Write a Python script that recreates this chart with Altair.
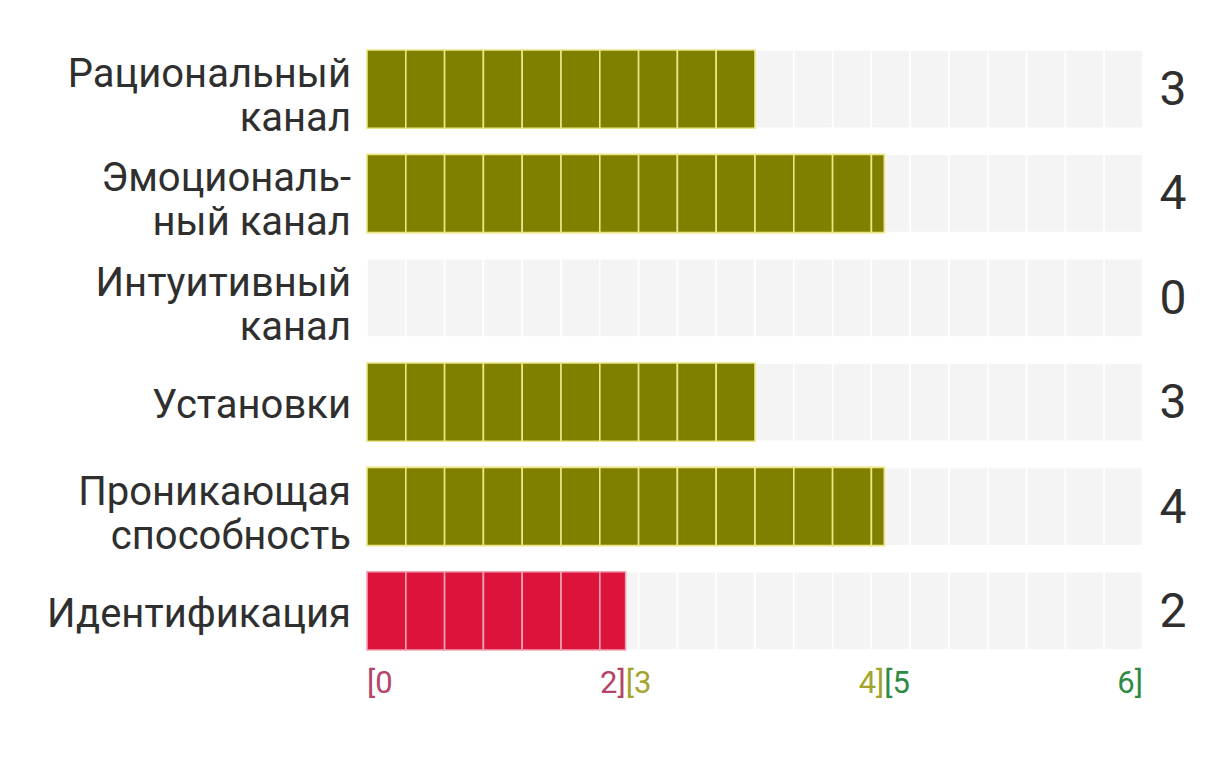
import altair as alt
import pandas as pd

# ---- data ----
categories = [
    "Рациональный\nканал",
    "Эмоциональ-\nный канал",
    "Интуитивный\nканал",
    "Установки",
    "Проникающая\nспособность",
    "Идентификация",
]
scores = [3, 4, 0, 3, 4, 2]
range_lo = [0, 3, 5]
range_hi = [2, 4, 6]

# ---- style constants ----
max_score = 6
n_cells = 20
bar_colors = ["#dc143c", "#808000", "#228b22"]
sep_colors = ["#f3a3b4", "#ece686", "#a8e0a8"]
range_colors = ["#b5446b", "#a4a42a", "#2f8a43"]
bg_fill = "#f4f4f4"
text_color = "#2f2f2f"
font = "Roboto"

step = max_score / n_cells
bg_rows, fg_rows = [], []
for c, v in zip(categories, scores):
    for i in range(n_cells):
        lo, hi = i * step, (i + 1) * step
        bg_rows.append(dict(cat=c, x0=lo, x1=hi))
        if lo < v - 1e-9:
            fg_rows.append(dict(cat=c, x0=lo, x1=min(hi, v), score=v))
bg_df = pd.DataFrame(bg_rows)
fg_df = pd.DataFrame(fg_rows)
lab_df = pd.DataFrame(dict(cat=categories, score=scores))

seg = max_score / len(range_lo)
left_df = pd.DataFrame(dict(
    txt=[f"[{v}" for v in range_lo],
    pos=[k * seg for k in range(len(range_lo))],
    k=list(range(len(range_lo))),
))
right_df = pd.DataFrame(dict(
    txt=[f"{v}]" for v in range_hi],
    pos=[(k + 1) * seg for k in range(len(range_hi))],
    k=list(range(len(range_hi))),
))

xscale = alt.Scale(domain=[0, max_score], nice=False, zero=True)
yenc = alt.Y("cat:N", sort=categories, axis=None,
             scale=alt.Scale(paddingInner=0.25, paddingOuter=0))

bg = alt.Chart(bg_df).mark_rect(fill=bg_fill, stroke="white", strokeWidth=1.5).encode(
    x=alt.X("x0:Q", scale=xscale, axis=None),
    x2="x1:Q",
    y=yenc,
)

fg = alt.Chart(fg_df).mark_rect(strokeWidth=1.6).encode(
    x=alt.X("x0:Q", scale=xscale, axis=None),
    x2="x1:Q",
    y=yenc,
    color=alt.Color("score:Q", legend=None,
                    scale=alt.Scale(type="threshold", domain=[2.5, 4.5], range=bar_colors)),
    stroke=alt.Stroke("score:Q", legend=None,
                      scale=alt.Scale(type="threshold", domain=[2.5, 4.5], range=sep_colors)),
)

name_style = dict(align="right", baseline="alphabetic", font=font, fontSize=40,
                  lineHeight=44, lineBreak="\n", color=text_color)

names_multi = alt.Chart(lab_df).transform_filter(
    "indexof(datum.cat, '\\n') >= 0"
).mark_text(dy=-2, **name_style).encode(
    x=alt.value(-16),
    y=yenc,
    text="cat:N",
)

names_single = alt.Chart(lab_df).transform_filter(
    "indexof(datum.cat, '\\n') < 0"
).mark_text(dy=16, **name_style).encode(
    x=alt.value(-16),
    y=yenc,
    text="cat:N",
)

vals = alt.Chart(lab_df).mark_text(
    align="center", baseline="middle", font=font, fontSize=48, color=text_color, dy=2,
).encode(
    x=alt.value(806),
    y=yenc,
    text="score:Q",
)

rcolor = alt.Color("k:O", legend=None,
                   scale=alt.Scale(domain=list(range(len(range_lo))), range=range_colors))

left_lab = alt.Chart(left_df).mark_text(
    align="left", baseline="middle", font=font, fontSize=31,
).encode(
    x=alt.X("pos:Q", scale=xscale, axis=None),
    y=alt.value(634),
    text="txt:N",
    color=rcolor,
)

right_lab = alt.Chart(right_df).mark_text(
    align="right", baseline="middle", font=font, fontSize=31,
).encode(
    x=alt.X("pos:Q", scale=xscale, axis=None),
    y=alt.value(634),
    text="txt:N",
    color=rcolor,
)

chart = alt.layer(bg, fg, names_multi, names_single, vals, left_lab, right_lab).resolve_scale(
    color="independent"
).properties(
    width=776,
    height=600,
    padding={"left": 359, "top": 42, "right": 50, "bottom": 80},
    autosize=alt.AutoSizeParams(type="none"),
    background="white",
).configure_view(stroke=None)

chart.save("out.html", embed_options={"renderer": "svg", "actions": False})
